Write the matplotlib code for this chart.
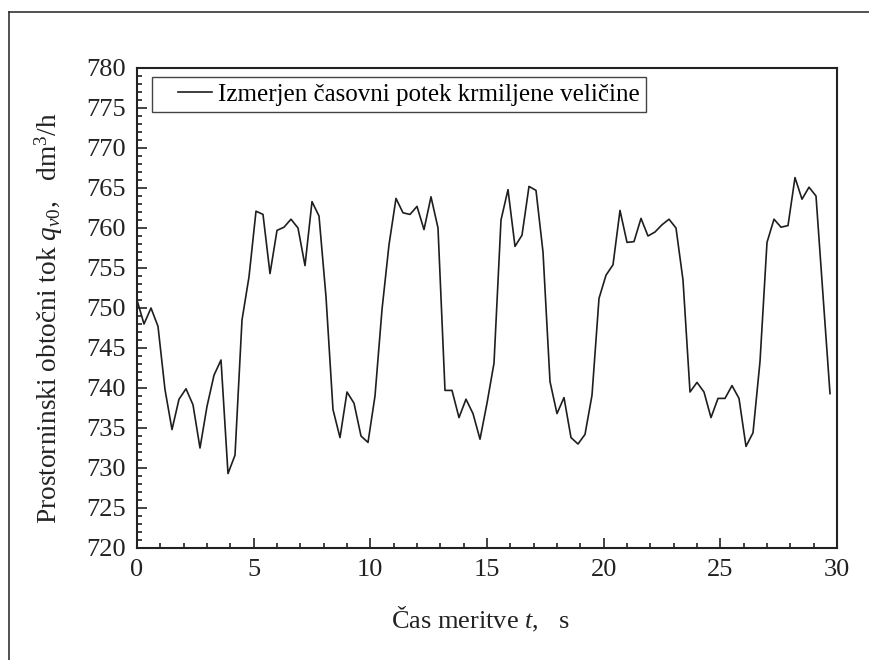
import numpy as np
import matplotlib
matplotlib.use('Agg')
import matplotlib.pyplot as plt
from matplotlib.lines import Line2D
from matplotlib.legend_handler import HandlerLine2D
from matplotlib.ticker import MultipleLocator

# pisave - Times podobna
plt.rcParams['font.family'] = ['Liberation Serif', 'DejaVu Serif']
plt.rcParams['mathtext.fontset'] = 'custom'
plt.rcParams['mathtext.rm'] = 'Liberation Serif'
plt.rcParams['mathtext.it'] = 'Liberation Serif:italic'

# izmerjene vrednosti, vzorcenje 0.3 s
sample_period = 0.3
q_v0 = [751.0, 748.0, 750.0, 747.7, 739.8, 734.8, 738.6, 739.9, 737.9, 732.5,
        737.7, 741.6, 743.5, 729.3, 731.6, 748.5, 753.9, 762.1, 761.7, 754.3,
        759.7, 760.1, 761.1, 760.0, 755.3, 763.3, 761.5, 751.4, 737.3, 733.8,
        739.5, 738.1, 734.0, 733.2, 739.0, 749.8, 757.9, 763.7, 761.9, 761.7,
        762.7, 759.8, 763.9, 760.0, 739.7, 739.7, 736.3, 738.6, 736.8, 733.6,
        738.1, 743.1, 761.0, 764.8, 757.7, 759.1, 765.2, 764.7, 757.0, 740.8,
        736.8, 738.8, 733.8, 733.0, 734.2, 739.1, 751.2, 754.1, 755.4, 762.2,
        758.2, 758.3, 761.2, 759.0, 759.5, 760.4, 761.1, 760.0, 753.5, 739.5,
        740.7, 739.5, 736.3, 738.7, 738.7, 740.3, 738.7, 732.7, 734.4, 743.3,
        758.2, 761.1, 760.1, 760.3, 766.3, 763.6, 765.1, 764.0, 751.6, 739.3]
t = np.arange(len(q_v0)) * sample_period

x_ticks = [0, 5, 10, 15, 20, 25, 30]
y_ticks = [720, 725, 730, 735, 740, 745, 750, 755, 760, 765, 770, 775, 780]

fig = plt.figure(figsize=(8.7, 6.6), dpi=100)
ax = fig.add_axes([137/870, 1 - 548/660, 700/870, 480/660])

line, = ax.plot(t, q_v0, color='#1e1e1e', lw=1.2,
                label='Izmerjen časovni potek krmiljene veličine')

ax.set_xlim(0, 30)
ax.set_ylim(720, 780)
ax.set_xticks(x_ticks)
ax.set_yticks(y_ticks)
ax.xaxis.set_minor_locator(MultipleLocator(1))
ax.yaxis.set_minor_locator(MultipleLocator(1))
ax.tick_params(which='both', direction='in', top=False, right=False,
               width=1.2, colors='#222222', labelcolor='#222222')
ax.tick_params(which='major', length=7, labelsize=19, pad=8)
ax.tick_params(which='minor', length=3.5)
for s in ax.spines.values():
    s.set_linewidth(1.5)
    s.set_color('#222222')

ax.set_xlabel('Čas meritve $t$,   s', fontsize=19, color='#222222')
ax.xaxis.set_label_coords(0.49, -0.118)
ax.set_ylabel('Prostorninski obtočni tok $q_{v0}$,   dm$^3$/h', fontsize=19.7,
              color='#222222')
ax.yaxis.set_label_coords(-0.103, 0.479)

leg = ax.legend(loc='upper left', bbox_to_anchor=(0.021, 0.981), borderaxespad=0,
                fontsize=18, fancybox=False, framealpha=1, handlelength=2.16,
                handletextpad=0.24, borderpad=0.25,
                handler_map={line: HandlerLine2D(xpad=0.8)})
leg.get_frame().set_edgecolor('#444444')
leg.get_frame().set_linewidth(1.0)

# okvir slike (zgoraj in levo)
fig.add_artist(Line2D([9/870, 1], [1 - 12/660, 1 - 12/660], color='#333333', lw=1.2,
                      transform=fig.transFigure))
fig.add_artist(Line2D([9/870, 9/870], [0, 1 - 12/660], color='#333333', lw=1.2,
                      transform=fig.transFigure))

fig.savefig('out.png', dpi=100)
